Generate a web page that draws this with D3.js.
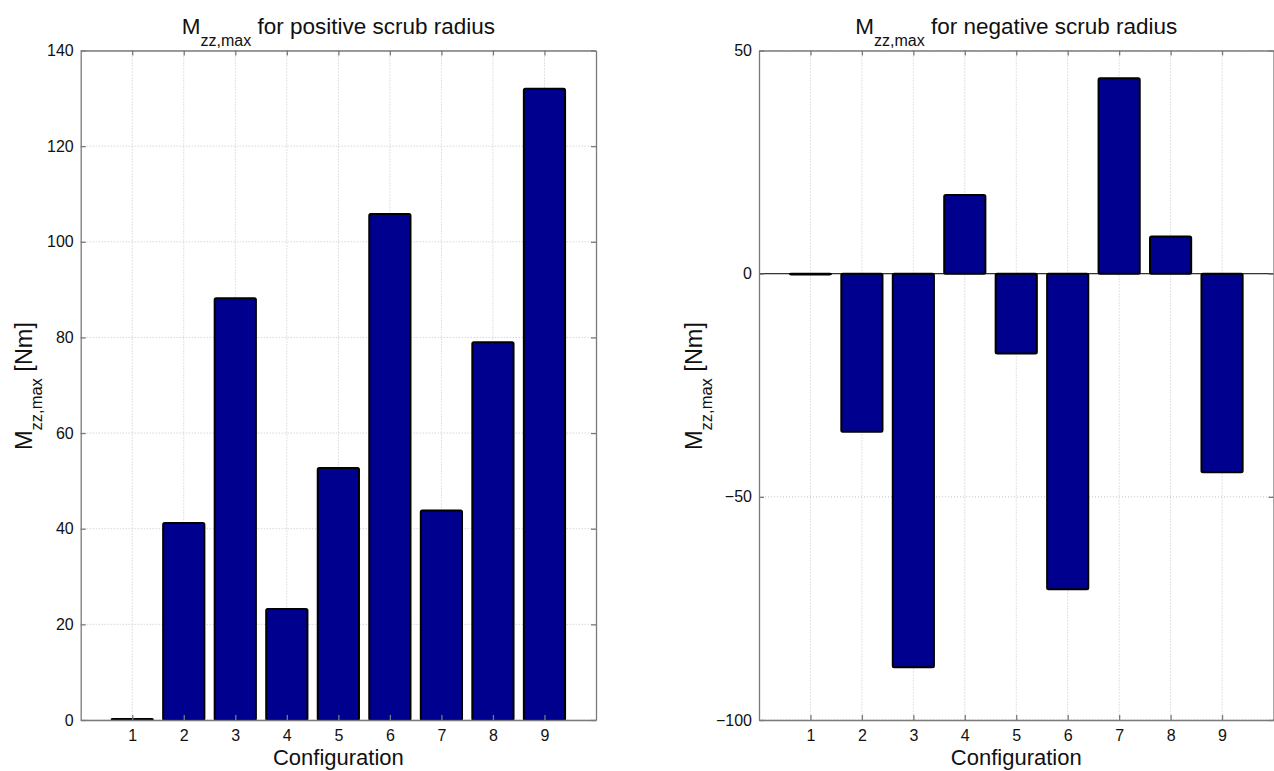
<!DOCTYPE html>
<html><head><meta charset="utf-8">
<script src="https://cdn.jsdelivr.net/npm/d3@7"></script>
<style>
html,body{margin:0;padding:0;background:#fff;}
svg{display:block;font-family:"Liberation Sans",Arial,Helvetica,sans-serif;}
</style></head>
<body>
<svg id="chart" width="1274" height="771"></svg>
<script>
const categories = [1, 2, 3, 4, 5, 6, 7, 8, 9];
const positiveValues = [0.2, 41.2, 88.2, 23.2, 52.7, 105.8, 43.8, 79.0, 132.0];
const negativeValues = [-0.2, -35.4, -88.2, 17.6, -17.9, -70.7, 43.8, 8.3, -44.5];
const positiveTicks = [0, 20, 40, 60, 80, 100, 120, 140];
const negativeTicks = [-100, -50, 0, 50];
const positiveTitle = "for positive scrub radius";
const negativeTitle = "for negative scrub radius";
const xLabel = "Configuration";

const svg = d3.select("#chart");
const barFill = "#00008f";
const axisColor = "#7a7a7a";

function panel(cfg) {
  const x = d3.scaleLinear().domain([0, 10]).range([cfg.x0, cfg.x1]);
  const y = d3.scaleLinear().domain(cfg.domain).range([720, 50.5]);
  const g = svg.append("g");

  // grid
  g.selectAll(".gx").data(categories).enter().append("line")
    .attr("x1", d => x(d)).attr("x2", d => x(d))
    .attr("y1", 50.5).attr("y2", 720)
    .attr("stroke", "#c4c4c4").attr("stroke-width", 1).attr("stroke-dasharray", "1,2");
  g.selectAll(".gy").data(cfg.ticks).enter().append("line")
    .attr("x1", cfg.x0).attr("x2", cfg.x1)
    .attr("y1", d => y(d)).attr("y2", d => y(d))
    .attr("stroke", "#c4c4c4").attr("stroke-width", 1).attr("stroke-dasharray", "1,2");

  // baseline
  if (cfg.domain[0] < 0) {
    g.append("line").attr("x1", cfg.x0).attr("x2", cfg.x1)
      .attr("y1", y(0)).attr("y2", y(0))
      .attr("stroke", "#333").attr("stroke-width", 1.2);
  }

  // bars
  const bw = 0.8;
  g.selectAll(".bar").data(cfg.values).enter().append("rect")
    .attr("x", (d, i) => x(categories[i] - bw / 2))
    .attr("width", (d, i) => x(categories[i] + bw / 2) - x(categories[i] - bw / 2))
    .attr("y", d => Math.min(y(d), y(0)))
    .attr("height", d => Math.abs(y(d) - y(0)))
    .attr("fill", barFill).attr("stroke", "#000").attr("stroke-width", 2)
    .attr("rx", 1.5);

  // axes
  const bottom = d3.axisBottom(x).tickValues(categories).tickSizeInner(-5).tickSizeOuter(0).tickPadding(10).tickFormat(d3.format("d"));
  const top = d3.axisTop(x).tickValues(categories).tickSizeInner(-5).tickSizeOuter(0).tickFormat("");
  const left = d3.axisLeft(y).tickValues(cfg.ticks).tickSizeInner(-5).tickSizeOuter(0).tickPadding(7).tickFormat(d3.format("d"));
  const right = d3.axisRight(y).tickValues(cfg.ticks).tickSizeInner(-5).tickSizeOuter(0).tickFormat("");
  const styleAxis = a => {
    a.selectAll("path").attr("stroke", axisColor).attr("stroke-width", 1.3);
    a.selectAll("line").attr("stroke", axisColor).attr("stroke-width", 1.3);
    a.selectAll("text").attr("fill", "#111").style("font-size", "16px")
      .style("font-family", '"Liberation Sans",Arial,sans-serif');
  };
  g.append("g").attr("transform", "translate(0,720)").call(bottom).call(styleAxis);
  g.append("g").attr("transform", "translate(0,50.5)").call(top).call(styleAxis);
  g.append("g").attr("transform", `translate(${cfg.x0},0)`).call(left).call(styleAxis);
  g.append("g").attr("transform", `translate(${cfg.x1},0)`).call(right).call(styleAxis);

  const cx = (cfg.x0 + cfg.x1) / 2;
  // title
  const t = g.append("text").attr("x", cx).attr("y", 33.5).attr("text-anchor", "middle")
    .attr("fill", "#111").style("font-size", "22.5px");
  t.append("tspan").text("M");
  t.append("tspan").attr("dy", 12).style("font-size", "16px").text("zz,max");
  t.append("tspan").attr("dy", -12).text(" " + cfg.title);

  // x label
  g.append("text").attr("x", cx).attr("y", 765).attr("text-anchor", "middle")
    .attr("fill", "#111").style("font-size", "22px").text(xLabel);

  // y label
  const yl = g.append("text").attr("transform", `translate(${cfg.ylx},386) rotate(-90)`)
    .attr("text-anchor", "middle").attr("fill", "#111").style("font-size", "23.5px");
  yl.append("tspan").text("M");
  yl.append("tspan").attr("dy", 10).style("font-size", "16.5px").text("zz,max");
  yl.append("tspan").attr("dy", -10).text(" [Nm]");
}

panel({x0: 80.7, x1: 596, domain: [0, 140], ticks: positiveTicks, values: positiveValues, title: positiveTitle, ylx: 32});
panel({x0: 759, x1: 1273.5, domain: [-100, 50], ticks: negativeTicks, values: negativeValues, title: negativeTitle, ylx: 702});
</script>
</body></html>
